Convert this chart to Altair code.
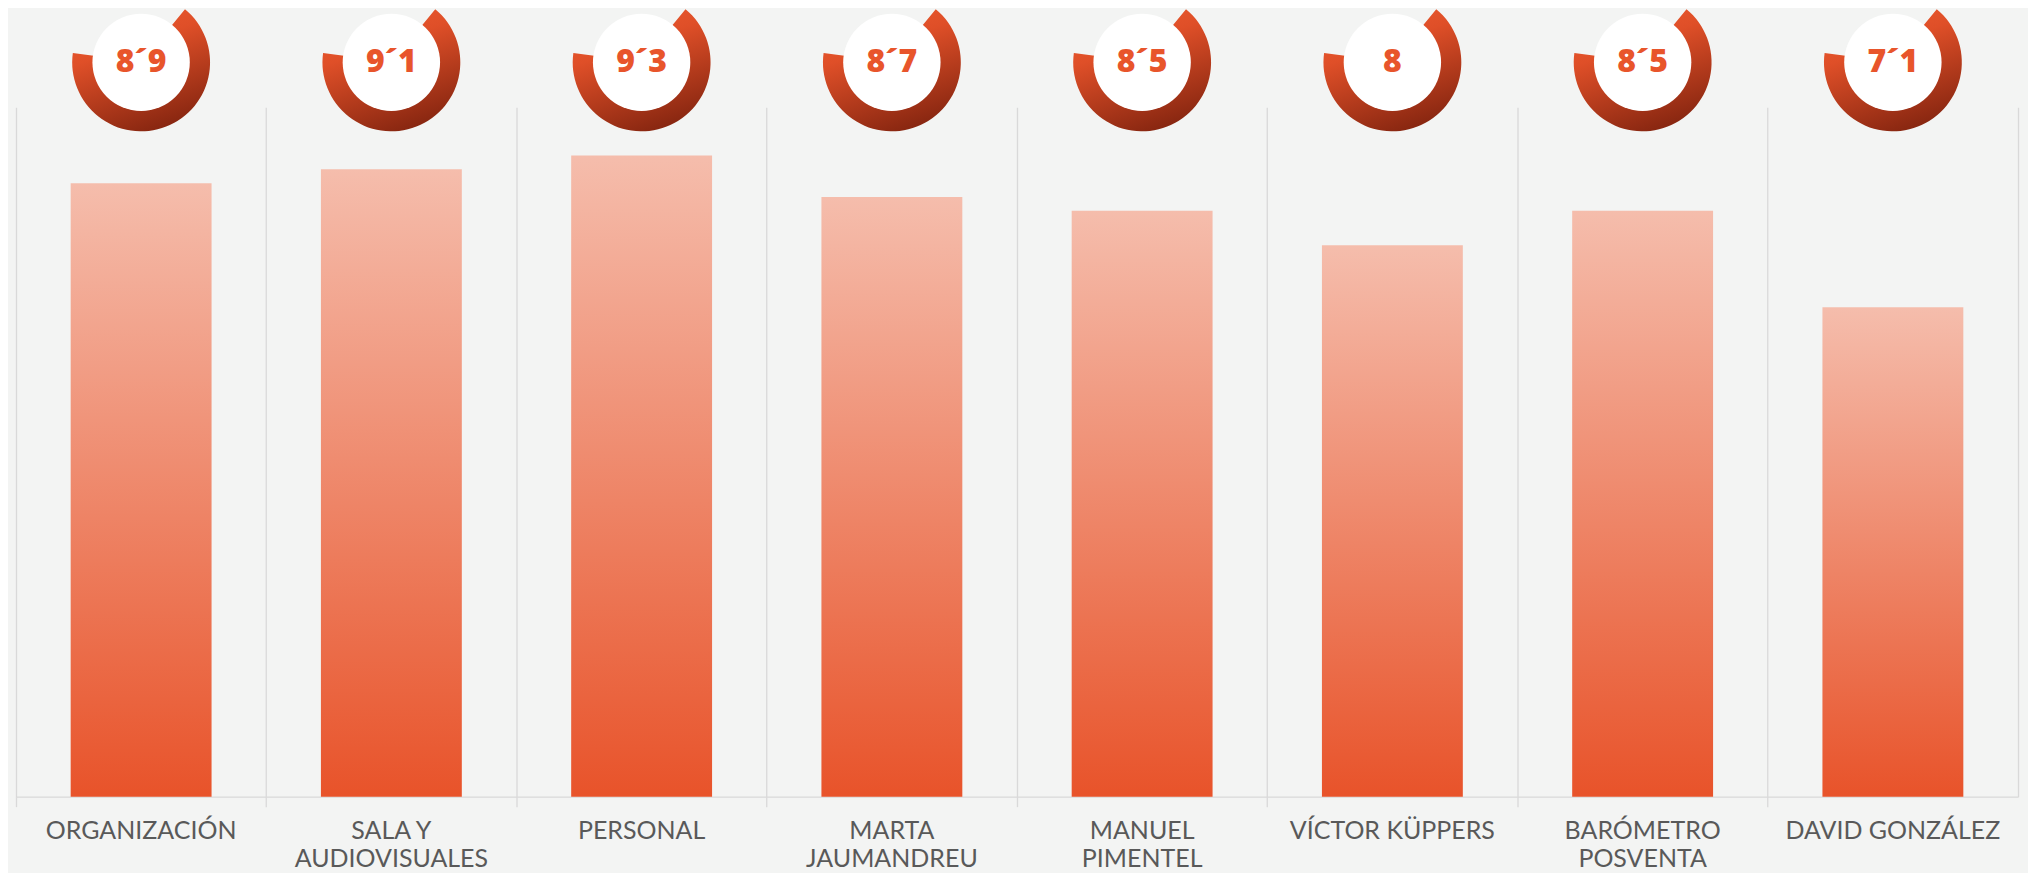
import altair as alt
import pandas as pd

categorias = [
    "ORGANIZACIÓN",
    "SALA Y AUDIOVISUALES",
    "PERSONAL",
    "MARTA JAUMANDREU",
    "MANUEL PIMENTEL",
    "VÍCTOR KÜPPERS",
    "BARÓMETRO POSVENTA",
    "DAVID GONZÁLEZ",
]
valoraciones = [8.9, 9.1, 9.3, 8.7, 8.5, 8.0, 8.5, 7.1]

df = pd.DataFrame({"categoria": categorias, "valor": valoraciones})

GRID = "#D9D9D9"
ORANGE = "#E8552B"
W, H = 2004, 690
BADGE_Y = -45

xscale = alt.Scale(paddingInner=0, paddingOuter=0)


def xenc(axis):
    return alt.X("categoria:N", sort=categorias, scale=xscale, axis=axis)


bar_grad = alt.Gradient(
    gradient="linear",
    stops=[alt.GradientStop(color="#F5BDAC", offset=0), alt.GradientStop(color="#E8532A", offset=1)],
    x1=0, x2=0, y1=0, y2=1,
)
ring_grad = alt.Gradient(
    gradient="linear",
    stops=[
        alt.GradientStop(color="#EA5A2E", offset=0),
        alt.GradientStop(color="#DF4F28", offset=0.3),
        alt.GradientStop(color="#83240F", offset=1),
    ],
    x1=0.3, x2=0.7, y1=0, y2=1,
)

bars = alt.Chart(df).mark_bar(fill=bar_grad, width=alt.RelativeBandSize(0.563)).encode(
    x=xenc(alt.Axis(orient="bottom", bandPosition=0, grid=True, gridColor=GRID, gridWidth=1.3,
                    ticks=True, tickSize=10, tickColor=GRID, tickWidth=1.3,
                    domain=True, domainColor=GRID, domainWidth=1.3,
                    labels=False, title=None)),
    y=alt.Y("valor:Q", scale=alt.Scale(domain=[0, 10], nice=False),
            axis=alt.Axis(orient="right", domain=True, domainColor=GRID, domainWidth=1.3,
                          ticks=False, labels=False, grid=False, title=None)),
)

ring = alt.Chart(df).mark_arc(
    radius=69, radius2=48, theta=0.69, theta2=4.85, fill=ring_grad, strokeWidth=0
).encode(x=xenc(None), y=alt.value(BADGE_Y))

disc = alt.Chart(df).mark_circle(size=9500, color="white", opacity=1, strokeWidth=0).encode(
    x=xenc(None), y=alt.value(BADGE_Y)
)

label_expr = (
    "length(datum.label) > 14 ? "
    "[slice(datum.label, 0, lastindexof(datum.label, ' ')), "
    "slice(datum.label, lastindexof(datum.label, ' ') + 1)] : datum.label"
)

badge_text = alt.Chart(df).transform_calculate(
    etiqueta="replace(format(datum.valor, '.1~f'), '.', '´')"
).mark_text(
    font="Open Sans", fontSize=32, fontWeight=800, color=ORANGE, baseline="middle", align="center"
).encode(
    x=xenc(alt.Axis(orient="bottom", ticks=False, grid=False, domain=False, labels=True,
                    labelExpr=label_expr, labelFont="Lato", labelFontSize=25, labelColor="#595959",
                    labelPadding=22, labelLineHeight=28, labelLimit=400, labelOverlap=False,
                    labelAngle=0, title=None)),
    y=alt.value(BADGE_Y),
    text="etiqueta:N",
)

chart = (
    alt.layer(bars, ring, disc, badge_text)
    .resolve_axis(x="independent")
    .properties(
        width=W,
        height=H,
        autosize=alt.AutoSizeParams(type="none"),
        padding={"left": 8, "top": 99, "right": 10, "bottom": 76},
        background="#F3F4F3",
    )
    .configure_view(stroke=None)
)

chart.save("out.html", embed_options={"renderer": "svg", "actions": False})
